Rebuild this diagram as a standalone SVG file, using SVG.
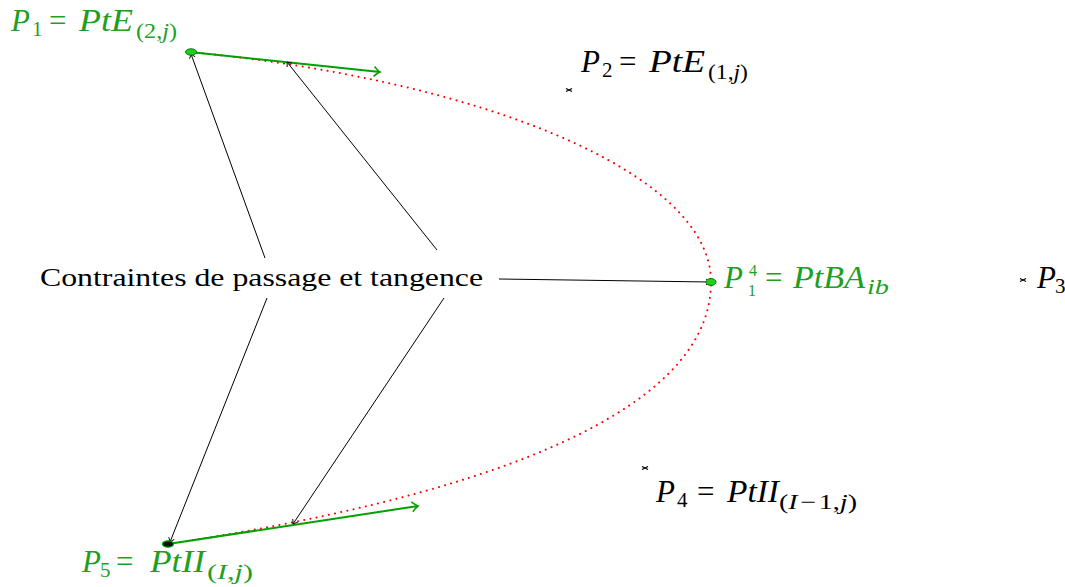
<svg xmlns="http://www.w3.org/2000/svg" width="1065" height="587" viewBox="0 0 1065 587">
<style>
text{font-family:"Liberation Serif","DejaVu Serif",serif}
.m{font-size:31px}
.s{font-size:21px}
.ss{font-size:16px}
.it{font-style:italic}
.g{fill:#1f9f1f}
.k{fill:#000}
.cl{stroke:#000;stroke-width:1;fill:none}
.ga{stroke:#00a000;stroke-width:2;fill:none}
.xm{stroke:#000;stroke-width:1.3}
</style>
<defs>
<marker id="ah" viewBox="-6 -5 8 10" markerWidth="8" markerHeight="10" refX="0" refY="0" orient="auto" markerUnits="userSpaceOnUse" overflow="visible">
<path d="M-4,-3 Q-1.5,-0.8 0,0 Q-1.5,0.8 -4,3" fill="none" stroke="#000" stroke-width="0.9"/>
</marker>
<marker id="gah" viewBox="-10 -7 12 14" markerWidth="12" markerHeight="14" refX="0" refY="0" orient="auto" markerUnits="userSpaceOnUse" overflow="visible">
<path d="M-6,-5 Q-2,-1 0,0 Q-2,1 -6,5" fill="none" stroke="#00a000" stroke-width="1.6"/>
</marker>
</defs>
<rect width="1065" height="587" fill="#fff"/>
<g id="curve">
<path d="M190,52 C480,80 711,172 711,282 C711,420 460,500 168,544" fill="none" stroke="#ff0000" stroke-width="2" stroke-dasharray="0.1 6.2" stroke-linecap="round"/>
</g>
<g id="connectors">
<line class="ga" x1="190" y1="52" x2="380" y2="72" marker-end="url(#gah)"/>
<line class="ga" x1="168" y1="544" x2="418" y2="506" marker-end="url(#gah)"/>
<line class="cl" x1="265" y1="258" x2="191" y2="54" marker-end="url(#ah)"/>
<line class="cl" x1="437" y1="250" x2="287" y2="62" marker-end="url(#ah)"/>
<line class="cl" x1="267" y1="298" x2="170" y2="542" marker-end="url(#ah)"/>
<line class="cl" x1="444" y1="298" x2="293" y2="524" marker-end="url(#ah)"/>
<line class="cl" x1="499" y1="279" x2="710" y2="282" marker-end="url(#ah)"/>
</g>
<g id="P1">
<ellipse cx="191" cy="52" rx="5.5" ry="3.2" fill="#22cc22" stroke="#008000" stroke-width="1"/>
<g class="g">
<text class="m it" x="11" y="31">P</text>
<text class="s" x="32" y="36">1</text>
<text class="m" x="49" y="31">=</text>
<text class="m it" x="79" y="31" textLength="54" lengthAdjust="spacingAndGlyphs">PtE</text>
<text class="s" x="136" y="38" textLength="41" lengthAdjust="spacingAndGlyphs">(2,<tspan class="it">j</tspan>)</text>
</g>
</g>
<g id="P2">
<path class="xm" d="M566,88.5 L572,91.5 M566,91.5 L572,88.5"/>
<g class="k">
<text class="m it" x="581" y="72">P</text>
<text class="s" x="602" y="77">2</text>
<text class="m" x="619" y="72">=</text>
<text class="m it" x="649" y="72" textLength="56" lengthAdjust="spacingAndGlyphs">PtE</text>
<text class="s" x="708" y="79" textLength="40" lengthAdjust="spacingAndGlyphs">(1,<tspan class="it">j</tspan>)</text>
</g>
</g>
<g id="P14">
<ellipse cx="711" cy="282" rx="5" ry="3.5" fill="#22cc22" stroke="#008000" stroke-width="1"/>
<g class="g">
<text class="m it" x="724" y="288">P</text>
<text class="ss" x="749" y="276">4</text>
<text class="ss" x="748" y="296">1</text>
<text class="m" x="765" y="288">=</text>
<text class="m it" x="793" y="288" textLength="72" lengthAdjust="spacingAndGlyphs">PtBA</text>
<text class="s it" x="867" y="294" textLength="22" lengthAdjust="spacingAndGlyphs">ib</text>
</g>
</g>
<g id="P3">
<path class="xm" d="M1020,278.5 L1026,281.5 M1020,281.5 L1026,278.5"/>
<g class="k">
<text class="m it" x="1037" y="288">P</text>
<text class="s" x="1055" y="293">3</text>
</g>
</g>
<g id="P4">
<path class="xm" d="M642,466.5 L648,469.5 M642,469.5 L648,466.5"/>
<g class="k">
<text class="m it" x="656" y="502">P</text>
<text class="s" x="677" y="507">4</text>
<text class="m" x="697" y="502">=</text>
<text class="m it" x="727" y="502" textLength="52" lengthAdjust="spacingAndGlyphs">PtII</text>
<text class="s" x="779" y="509" textLength="78" lengthAdjust="spacingAndGlyphs">(<tspan class="it">I</tspan><tspan dx="2">−</tspan><tspan dx="2">1,</tspan><tspan class="it">j</tspan>)</text>
</g>
</g>
<g id="P5">
<ellipse cx="168" cy="544" rx="5.5" ry="3.2" fill="#111" stroke="#00a000" stroke-width="1.2"/>
<g class="g">
<text class="m it" x="82" y="572">P</text>
<text class="s" x="100" y="577">5</text>
<text class="m" x="116" y="572">=</text>
<text class="m it" x="150" y="572" textLength="55" lengthAdjust="spacingAndGlyphs">PtII</text>
<text class="s" x="207" y="579" textLength="46" lengthAdjust="spacingAndGlyphs">(<tspan class="it">I</tspan>,<tspan class="it">j</tspan>)</text>
</g>
</g>
<g id="constraints">
<text class="k" x="40" y="286" font-size="25" textLength="443" lengthAdjust="spacingAndGlyphs">Contraintes de passage et tangence</text>
</g>
</svg>
